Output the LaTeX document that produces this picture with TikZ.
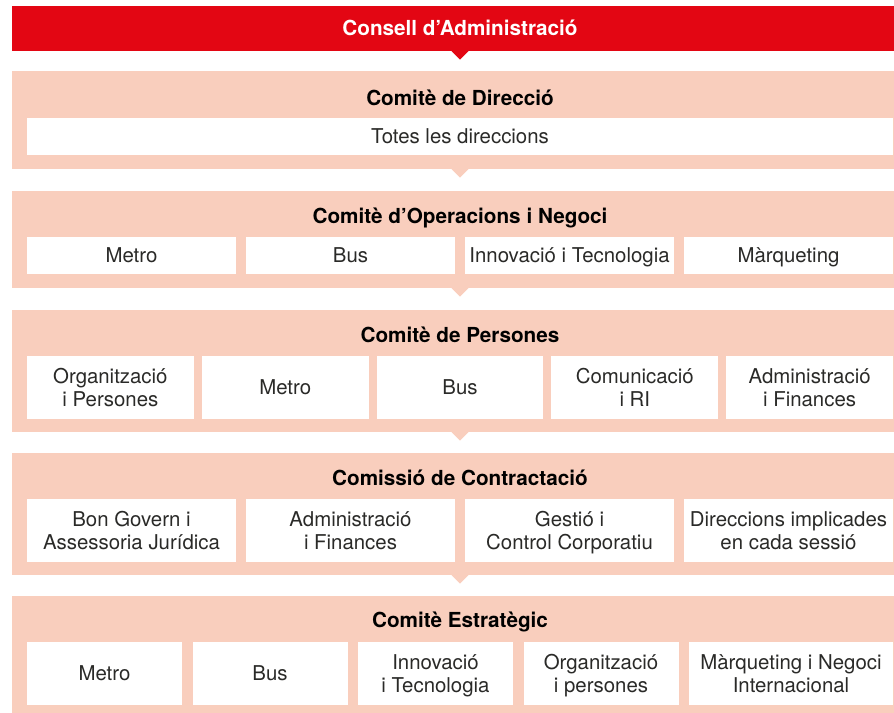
\documentclass[tikz,border=0pt]{standalone}
\usepackage{fontspec}
\setmainfont{TeX Gyre Heros}
\definecolor{tmbred}{HTML}{E30613}
\definecolor{tmbpeach}{HTML}{F9CEBD}
\definecolor{tmbtext}{HTML}{2A2A28}
\begin{document}
\begin{tikzpicture}[x=1pt,y=-1pt,
    bar/.style={fill=tmbred, inner sep=0pt, minimum width=896pt},
    panel/.style={fill=tmbpeach, inner sep=0pt, minimum width=896pt},
    title/.style={anchor=base, font=\fontsize{20.7}{24}\selectfont\bfseries, text=black},
    cell/.style={fill=white, inner sep=0pt, align=center, text depth=0pt, text=tmbtext,
        font=\fontsize{20.4}{23.5}\selectfont},
    oneline/.style={text height=14.6pt}]
    \useasboundingbox (0,0) rectangle (894,712);

    \node[bar, minimum height=45] (consell) at (460,28.5) {};
    \node[title, text=white] (tconsell) at (460,35) {Consell d’Administració};
    \fill[tmbred] ([xshift=-8.5pt]consell.south) -- ([xshift=8.5pt]consell.south)
        -- ([yshift=-8.5pt]consell.south) -- cycle;

    \node[panel, minimum height=98] (direccio) at (460,120) {};
    \node[title] (tdireccio) at (460,105) {Comitè de Direcció};
    \node[cell, oneline, minimum width=866, minimum height=37] (totes) at (460,136.5) {Totes les direccions};

    \node[panel, minimum height=97.5] (operacions) at (460,239.25) {};
    \node[title] (toperacions) at (460,223) {Comitè d’Operacions i Negoci};
    \foreach \cx/\txt [count=\i] in {131.5/Metro, 350.5/Bus, 569.5/Innovació i Tecnologia, 788.5/Màrqueting}
        \node[cell, oneline, minimum width=209, minimum height=37] (op\i) at (\cx,255.5) {\txt};

    \node[panel, minimum height=122] (persones) at (460,371) {};
    \node[title] (tpersones) at (460,342) {Comitè de Persones};
    \foreach \cx/\txt [count=\i] in {110.4/{Organització\\i Persones}, 285.2/Metro, 460/Bus,
            634.8/{Comunicació\\i RI}, 809.6/{Administració\\i Finances}}
        \node[cell, minimum width=166.8, minimum height=63] (pe\i) at (\cx,387.5) {\txt};

    \node[panel, minimum height=122] (contractacio) at (460,514) {};
    \node[title] (tcontractacio) at (460,485) {Comissió de Contractació};
    \foreach \cx/\txt [count=\i] in {131.5/{Bon Govern i\\Assessoria Jurídica}, 350.5/{Administració\\i Finances},
            569.5/{Gestió i\\Control Corporatiu}, 788.5/{Direccions implicades\\en cada sessió}}
        \node[cell, minimum width=209, minimum height=63] (co\i) at (\cx,530.5) {\txt};

    \node[panel, minimum height=118] (estrategic) at (460,655) {};
    \node[title] (testrategic) at (460,627) {Comitè Estratègic};
    \foreach \cx/\w/\txt [count=\i] in {104.5/155/Metro, 270/155/Bus, 435.5/155/{Innovació\\i Tecnologia},
            601/155/{Organització\\i persones}, 791/204/{Màrqueting i Negoci\\Internacional}}
        \node[cell, minimum width=\w, minimum height=63] (es\i) at (\cx,673.5) {\txt};

    \foreach \p in {direccio,operacions,persones,contractacio}
        \fill[tmbpeach] ([xshift=-8.5pt]\p.south) -- ([xshift=8.5pt]\p.south)
            -- ([yshift=-8.5pt]\p.south) -- cycle;
\end{tikzpicture}
\end{document}
